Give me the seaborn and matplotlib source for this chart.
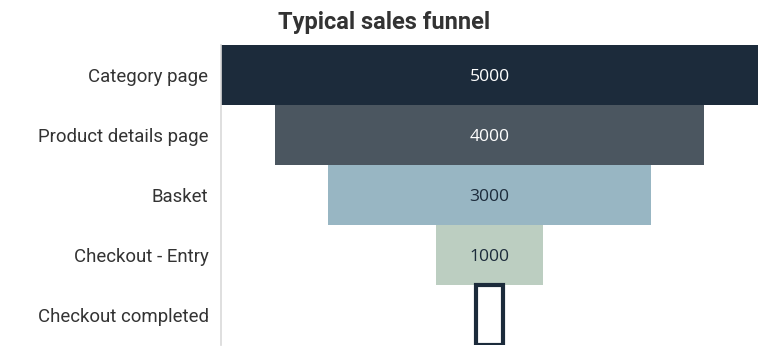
import matplotlib
matplotlib.use("Agg")
import matplotlib.pyplot as plt
import seaborn as sns
import pandas as pd

stages = ["Category page", "Product details page", "Basket", "Checkout - Entry", "Checkout completed"]
values = [5000, 4000, 3000, 1000, 250]
show_label = [True, True, True, True, False]
bar_colors = ["#1c2b3b", "#4b5660", "#98b6c3", "#bccec1", "#ffffff"]
edge_colors = ["none", "none", "none", "none", "#1c2b3b"]
text_colors = ["#ffffff", "#ffffff", "#1c2b3b", "#1c2b3b", "#1c2b3b"]
title = "Typical sales funnel"

sns.set_theme(style="white")
plt.rcParams["font.family"] = ["Roboto", "DejaVu Sans"]

df = pd.DataFrame({"stage": stages, "value": values})

fig = plt.figure(figsize=(7.68, 3.56), dpi=100)
ax = fig.add_axes([221 / 768, 1 - 345 / 356, (758 - 221) / 768, 300 / 356])

sns.barplot(data=df, x="value", y="stage", hue="stage", palette=bar_colors,
            orient="h", width=1.0, legend=False, ax=ax, saturation=1)

half = max(values) / 2
for patch, v, ec in zip(ax.patches, values, edge_colors):
    patch.set_x(-v / 2)
    if ec != "none":
        patch.set_edgecolor(ec)
        patch.set_linewidth(3)
    else:
        patch.set_linewidth(0)

for i, (v, show, tc) in enumerate(zip(values, show_label, text_colors)):
    if show:
        ax.text(0, i, f"{v}", ha="center", va="center_baseline", color=tc,
                fontsize=12.6, family=["Open Sans", "DejaVu Sans"])

ax.set_xlim(-half, half)
ax.set_ylim(len(stages) - 0.5, -0.5)
ax.set_xlabel("")
ax.set_ylabel("")
ax.set_xticks([])
ax.tick_params(axis="y", length=0, pad=9, labelsize=13.4, labelcolor="#333333")
for lbl in ax.get_yticklabels():
    lbl.set_va("center_baseline")
for s in ["top", "right", "bottom"]:
    ax.spines[s].set_visible(False)
ax.spines["left"].set_color("#d9d9d9")
ax.spines["left"].set_linewidth(1.2)

fig.suptitle(title, x=0.5, y=1 - 22 / 356, va="center", fontsize=17,
             fontweight="bold", color="#333333")

fig.savefig("out.png", dpi=100)
